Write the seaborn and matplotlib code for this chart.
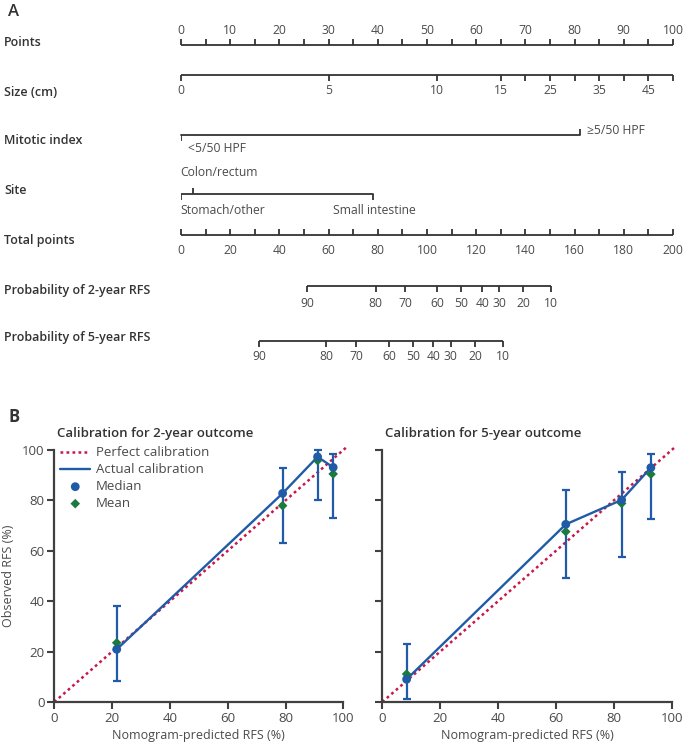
import numpy as np
import matplotlib
matplotlib.use("Agg")
import matplotlib.pyplot as plt
import seaborn as sns

# ---- panel A: nomogram scales (in points) ----
points_ticks = list(range(0, 101, 5))
size_cm = [0, 5, 10, 15, 20, 25, 30, 35, 40, 45, 50]
size_pts = [0, 30, 52, 65, 70, 75, 80, 85, 90, 95, 100]
size_labeled = [0, 5, 10, 15, 25, 35, 45]
mitotic_labels = ["<5/50 HPF", "≥5/50 HPF"]
mitotic_pts = [0, 81]
site_labels = ["Stomach/other", "Colon/rectum", "Small intestine"]
site_pts = [0, 2.5, 39]
total_ticks = list(range(0, 201, 10))
rfs_probs = [90, 80, 70, 60, 50, 40, 30, 20, 10]
rfs2_total = [51.3, 79.1, 91.1, 104.2, 113.7, 122.5, 129.4, 139.2, 150.4]
rfs5_total = [31.8, 58.9, 71.2, 84.6, 94.2, 102.6, 109.6, 119.5, 130.8]

# ---- panel B: calibration ----
pred2 = [21.6, 79.0, 91.1, 96.5]
median2 = [20.9, 82.8, 97.3, 93.1]
mean2 = [23.5, 77.9, 95.8, 90.5]
low2 = [8.5, 63.0, 80.2, 72.9]
high2 = [38.1, 92.7, 100.0, 98.3]

pred5 = [8.4, 63.4, 82.7, 92.8]
median5 = [9.0, 70.5, 80.2, 93.0]
mean5 = [11.1, 67.6, 78.8, 90.4]
low5 = [1.2, 49.3, 57.7, 72.6]
high5 = [23.0, 84.1, 91.4, 98.4]

INK = "#333333"
NUM = "#4a4a4a"
BLUE = "#1f5ba6"
GREEN = "#1c7a3c"
RED = "#c8174a"

sns.set_theme(style="ticks")
plt.rcParams["font.family"] = ["Open Sans", "DejaVu Sans"]
plt.rcParams["text.color"] = INK

W, H = 688, 750
fig = plt.figure(figsize=(W / 100, H / 100), dpi=100)


def fx(px):
    return px / W


def fy(py):
    return 1 - py / H


# nomogram axes: x in points (0-100), y in pixel rows
axA = fig.add_axes([fx(181), fy(370), fx(673) - fx(181), 370 / H])
axA.set_xlim(0, 100)
axA.set_ylim(370, 0)
axA.axis("off")

LW = 1.3
TL = 6


def scale_row(y, xs, labels, tick_up, label_y, line_xs=None):
    lx = line_xs if line_xs is not None else xs
    axA.plot([min(lx), max(lx)], [y, y], color=INK, lw=LW,
             solid_capstyle="butt", clip_on=False)
    y2 = y - TL if tick_up else y + TL
    axA.vlines(xs, y, y2, color=INK, lw=LW, clip_on=False)
    for x, lab in zip(xs, labels):
        if lab != "":
            axA.text(x, label_y, lab, ha="center", va="center",
                     fontsize=8.7, color=NUM)


# Points
scale_row(45, points_ticks,
          [str(p) if p % 10 == 0 else "" for p in points_ticks], True, 30)
# Size
scale_row(75, size_pts,
          [str(c) if c in size_labeled else "" for c in size_cm], False, 91)
# Mitotic index
axA.plot(mitotic_pts, [135, 135], color=INK, lw=LW, clip_on=False)
axA.vlines(mitotic_pts[0], 135, 135 + TL, color=INK, lw=LW)
axA.vlines(mitotic_pts[1], 135, 135 - TL, color=INK, lw=LW)
axA.text(mitotic_pts[0] + 1.4, 148, mitotic_labels[0], ha="left",
         va="center", fontsize=8.7, color=NUM)
axA.text(mitotic_pts[1] + 1.5, 131, mitotic_labels[1], ha="left",
         va="center", fontsize=8.7, color=NUM)
# Site
axA.plot([min(site_pts), max(site_pts)], [194, 194], color=INK, lw=LW)
axA.vlines([site_pts[0], site_pts[2]], 194, 194 + TL, color=INK, lw=LW)
axA.vlines(site_pts[1], 194, 194 - TL, color=INK, lw=LW)
axA.text(site_pts[0] - 0.2, 211, site_labels[0], ha="left", va="center",
         fontsize=8.7, color=NUM)
axA.text(site_pts[0] - 0.2, 173, site_labels[1], ha="left", va="center",
         fontsize=8.7, color=NUM)
axA.text(site_pts[2] - 8.2, 211, site_labels[2], ha="left", va="center",
         fontsize=8.7, color=NUM)
# Total points (0-200 mapped onto the 0-100 points scale)
scale_row(235, [t / 2 for t in total_ticks],
          [str(t) if t % 20 == 0 else "" for t in total_ticks], True, 250)
# Probabilities
scale_row(286, [t / 2 for t in rfs2_total], [str(p) for p in rfs_probs],
          False, 303)
scale_row(341, [t / 2 for t in rfs5_total], [str(p) for p in rfs_probs],
          False, 356)

row_names = ["Points", "Size (cm)", "Mitotic index", "Site", "Total points",
             "Probability of 2-year RFS", "Probability of 5-year RFS"]
row_y = [42, 92, 140, 191, 240, 290, 338]
for name, py in zip(row_names, row_y):
    fig.text(fx(4), fy(py), name, ha="left", va="center", fontsize=9,
             fontweight="semibold", color=INK)

fig.text(fx(8), fy(12), "A", ha="left", va="center", fontsize=12,
         fontweight="semibold", color=INK)
fig.text(fx(8), fy(417), "B", ha="left", va="center", fontsize=12,
         fontweight="bold", color=INK)

# calibration axes
ax_left = fig.add_axes([fx(54.3), fy(702), (343.3 - 54.3) / W, 252 / H])
ax_right = fig.add_axes([fx(382.3), fy(702), (671.7 - 382.3) / W, 252 / H])

panels = [
    (ax_left, pred2, median2, mean2, low2, high2,
     "Calibration for 2-year outcome"),
    (ax_right, pred5, median5, mean5, low5, high5,
     "Calibration for 5-year outcome"),
]

for ax, pred, med, mean, lo, hi, title in panels:
    ax.set_facecolor("white")
    ax.plot([0, 101], [0, 101], color=RED, lw=1.8, ls=(0, (1.1, 1.3)),
            clip_on=False, zorder=2, label="Perfect calibration")
    sns.lineplot(x=pred, y=med, ax=ax, color=BLUE, lw=1.7, sort=False,
                 label="Actual calibration", zorder=3)
    med_a = np.array(med)
    ax.errorbar(pred, med, yerr=[med_a - np.array(lo), np.array(hi) - med_a],
                fmt="none", ecolor=BLUE, elinewidth=1.6, capsize=3.2,
                capthick=1.6, zorder=3, clip_on=False)
    sns.scatterplot(x=pred, y=mean, ax=ax, marker="D", color=GREEN, s=24,
                    edgecolor="none", label="Mean", zorder=4, clip_on=False)
    sns.scatterplot(x=pred, y=med, ax=ax, marker="o", color=BLUE, s=40,
                    edgecolor="none", label="Median", zorder=5, clip_on=False)

    ax.set_xlim(0, 100)
    ax.set_ylim(0, 100)
    ax.set_xticks(range(0, 101, 20))
    ax.set_yticks(range(0, 101, 20))
    sns.despine(ax=ax)
    for sp in ["left", "bottom"]:
        ax.spines[sp].set_linewidth(1.6)
        ax.spines[sp].set_color("#404040")
    ax.tick_params(direction="out", length=5, width=1.5, color="#404040",
                   labelsize=9.5, labelcolor=NUM, pad=2)
    ax.set_title(title, loc="left", fontsize=9.5, fontweight="semibold",
                 color=INK, pad=9, x=0.01)
    ax.set_xlabel("Nomogram-predicted RFS (%)", fontsize=9, color=NUM,
                  labelpad=3)
    ax.set_ylabel("")

ax_left.set_ylabel("Observed RFS (%)", fontsize=9, color=NUM, labelpad=5)
ax_right.tick_params(axis="y", labelleft=False)
ax_right.get_legend().remove()

handles, labels = ax_left.get_legend_handles_labels()
order = [labels.index(k) for k in ["Perfect calibration",
                                   "Actual calibration", "Median", "Mean"]]
ax_left.legend([handles[i] for i in order], [labels[i] for i in order],
               loc="upper left", bbox_to_anchor=(0.02, 1.015), frameon=False,
               fontsize=9.5, handlelength=2.3, handletextpad=0.4,
               labelspacing=0.3, borderpad=0, borderaxespad=0,
               labelcolor=NUM)

fig.savefig("out.png", dpi=100, facecolor="white")
